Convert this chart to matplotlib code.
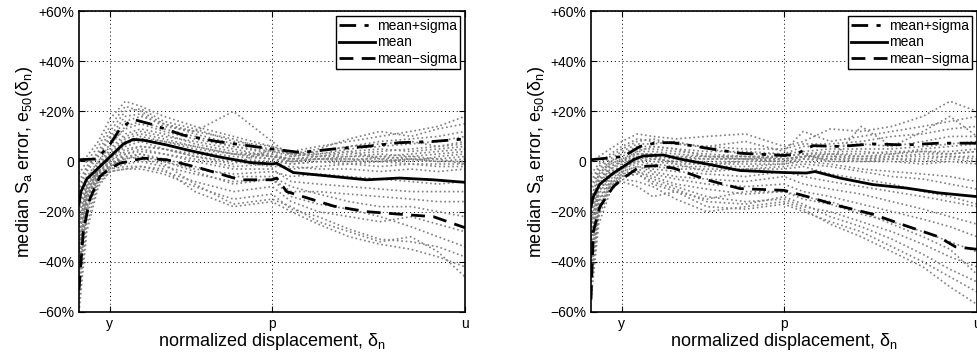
import matplotlib
matplotlib.use("Agg")
import matplotlib.pyplot as plt

plt.rcParams["font.family"] = ["Liberation Sans", "DejaVu Sans"]
plt.rcParams["mathtext.fontset"] = "custom"
plt.rcParams["mathtext.rm"] = "Liberation Sans"

# ---------------------------------------------------------------------------
# Data, error in percent
# ---------------------------------------------------------------------------
tick_pos = [0.08, 0.5, 1.0]
tick_labels = ["y", "p", "u"]
ytick_pos = [-60, -40, -20, 0, 20, 40, 60]
ytick_labels = ["\u221260%", "\u221240%", "\u221220%", "0", "+20%", "+40%", "+60%"]

x_grid = [0, 0.02, 0.05, 0.08, 0.12, 0.16, 0.22, 0.3, 0.4, 0.5,
          0.55, 0.62, 0.7, 0.78, 0.86, 0.93, 1.0]

gray_left = [
    [0, 2, 8, 17, 24, 22, 18, 14, 10, 6, 4, 6, 8, 10, 12, 14, 18],
    [-5, 0, 6, 14, 22, 20, 15, 12, 9, 4, 3, 5, 9, 12, 10, 13, 15],
    [-10, -3, 3, 10, 18, 19, 14, 12, 20, 8, 2, 4, 6, 8, 9, 10, 12],
    [-15, -6, 0, 6, 14, 16, 13, 10, 6, 3, 1, 2, 3, 4, 5, 6, 8],
    [-20, -8, -2, 4, 10, 12, 10, 8, 5, 2, 1, 1, 2, 2, 3, 4, 5],
    [-25, -10, -3, 2, 8, 9, 8, 6, 3, 1, 0, 1, 1, 1, 2, 1, 2],
    [-30, -12, -4, 0, 5, 6, 5, 3, 1, 0, -1, 0, 0, 0, 1, 0, 0],
    [-35, -15, -5, -2, 3, 4, 3, 1, -2, -1, -3, -2, -1, -2, -1, -2, -2],
    [-40, -18, -6, -2, 1, 2, 0, -3, -5, -4, -6, -5, -6, -7, -8, -9, -8],
    [-45, -20, -7, -3, -1, 0, -2, -5, -8, -7, -12, -12, -13, -14, -15, -16, -16],
    [-50, -22, -8, -3, -2, -2, -4, -8, -12, -10, -16, -20, -22, -24, -22, -25, -28],
    [-55, -25, -9, -4, -3, -3, -5, -10, -15, -13, -19, -22, -27, -31, -32, -34, -38],
    [-60, -28, -10, -4, -3, -2, -3, -12, -18, -16, -20, -25, -30, -33, -35, -38, -42],
    [-40, -16, -5, -1, 2, 1, -1, -9, -17, -15, -18, -24, -28, -32, -30, -36, -46],
    [-30, -12, -3, 1, 6, 8, 5, 2, -1, 5, 3, 2, 4, 1, 0, 2, 3],
    [-12, -4, 2, 9, 16, 18, 15, 11, 7, 5, 3, 3, 5, 6, 7, 8, 10],
    [-18, -7, 0, 7, 13, 15, 12, 9, 6, 4, 2, 3, 4, 5, 4, 5, 6],
    [-22, -9, -1, 5, 11, 13, 11, 7, 4, 2, 1, 2, 2, 3, 2, 3, 4],
    [-28, -11, -2, 3, 9, 11, 9, 6, 3, 3, 0, 1, 1, 0, 1, 0, 1],
    [-33, -13, -3, 1, 7, 9, 7, 4, 2, 1, -1, 0, -1, 0, -1, -1, -1],
    [-38, -15, -4, 0, 4, 6, 5, 2, 0, -2, -2, -3, -3, -4, -3, -4, -3],
    [-42, -17, -5, -1, 3, 5, 3, 0, -3, -3, -8, -9, -10, -11, -12, -12, -12],
    [-46, -19, -6, -2, 2, 3, 1, -2, -6, -6, -10, -13, -16, -18, -18, -20, -22],
    [-26, -10, -3, 2, 7, 10, 8, 5, 3, 2, 0, 1, 0, 2, 1, 1, -1],
    [-8, -2, 4, 12, 20, 21, 16, 13, 8, 6, 3, 4, 6, 7, 8, 6, 7],
    [-36, -14, -4, -1, 1, 3, 0, -4, -9, -7, -14, -17, -19, -22, -26, -30, -34],
]

gray_right = [
    [0, 2, 5, 8, 11, 10, 9, 10, 11, 6, 8, 13, 12, 14, 18, 24, 20],
    [-5, -1, 3, 6, 9, 8, 7, 6, 8, 4, 12, 8, 10, 12, 14, 16, 18],
    [-10, -3, 1, 4, 7, 7, 8, 5, 3, 3, 6, 6, 7, 6, 8, 10, 10],
    [-15, -5, 0, 2, 5, 5, 4, 3, 2, 2, 3, 4, 4, 3, 5, 6, 7],
    [-20, -7, -2, 0, 3, 3, 2, 1, 1, 1, 2, 2, 2, 2, 3, 3, 4],
    [-25, -9, -3, -1, 2, 1, 0, 0, 0, 0, 1, 1, 1, 1, 0, 1, 0],
    [-30, -12, -5, -3, 0, -1, -2, -2, -2, -1, 0, -1, -3, -4, -5, -6, -8],
    [-35, -15, -7, -4, -2, -3, -4, -5, -6, -4, -6, -8, -10, -12, -14, -16, -18],
    [-40, -18, -9, -5, -3, -5, -7, -9, -10, -9, -12, -14, -17, -20, -23, -26, -30],
    [-45, -20, -10, -6, -4, -7, -10, -14, -16, -15, -18, -20, -24, -28, -33, -38, -42],
    [-50, -22, -11, -6, -5, -9, -12, -18, -19, -17, -20, -24, -28, -34, -40, -46, -52],
    [-55, -25, -12, -7, -8, -10, -15, -20, -18, -16, -19, -25, -30, -36, -42, -50, -57],
    [-40, -16, -8, -8, -10, -14, -12, -15, -12, -12, -14, -16, -20, -25, -30, -35, -45],
    [-30, -12, -6, -3, 1, 2, -1, -4, -3, -3, -2, -5, -7, -9, -12, -14, -17],
    [-20, -8, -3, 0, 4, 6, 5, 2, 1, 2, 3, 0, 14, 6, 12, 18, 10],
    [-12, -4, 0, 3, 6, 6, 5, 4, 4, 3, 4, 5, 5, 5, 6, 7, 8],
    [-18, -6, -1, 1, 4, 4, 3, 2, 2, 2, 3, 3, 3, 4, 4, 4, 5],
    [-22, -8, -2, 0, 2, 2, 1, 1, 1, 0, 2, 2, 1, 2, 2, 2, 2],
    [-28, -11, -4, -2, 1, 0, -1, -1, -1, -1, 1, 0, 0, 0, -1, 0, -1],
    [-33, -13, -6, -3, -1, -2, -3, -3, -3, -2, -1, -2, -4, -6, -7, -9, -11],
    [-38, -16, -8, -4, -2, -4, -6, -7, -8, -6, -9, -11, -13, -16, -19, -22, -25],
    [-43, -19, -9, -5, -4, -6, -9, -11, -13, -12, -15, -17, -21, -24, -28, -32, -36],
    [-48, -21, -10, -6, -5, -8, -11, -16, -17, -14, -17, -22, -26, -31, -37, -43, -48],
    [-8, -2, 2, 5, 8, 9, 7, 6, 5, 5, 7, 7, 8, 10, 11, 13, 14],
    [-26, -10, -4, -2, 0, 1, 0, -1, 0, 1, 2, 1, 0, 1, 1, 2, 1],
    [-15, -5, -1, 1, 3, 3, 2, 2, 2, 1, 2, 3, 2, 3, 4, 3, 4],
]

left_mean_x = [0, 0.005, 0.02, 0.054, 0.081, 0.115, 0.14, 0.167, 0.227, 0.28,
               0.357, 0.443, 0.5, 0.512, 0.555, 0.66, 0.745, 0.83, 0.918, 1.0]
left_mean_y = [-17, -12, -7, -2, 2, 7, 8.8, 8.5, 6.6, 4.6,
               2, -0.4, -1, -0.7, -4.4, -6, -7.3, -6.6, -7.3, -8.3]
left_upper_x = [0, 0.046, 0.081, 0.106, 0.14, 0.184, 0.27, 0.357, 0.5,
                0.573, 0.66, 0.745, 0.83, 0.918, 1.0]
left_upper_y = [0.7, 1, 7, 13, 16.8, 15, 10.5, 8, 5, 3.6, 5, 6, 7.5, 8, 9]
left_lower_x = [0, 0.011, 0.028, 0.054, 0.081, 0.106, 0.167, 0.227, 0.313,
                0.417, 0.5, 0.512, 0.538, 0.66, 0.745, 0.83, 0.918, 1.0]
left_lower_y = [-51, -28, -15, -6, -2.6, -0.7, 1.3, 0.7, -2.6,
                -7.3, -7.3, -6.6, -12, -17.8, -20, -21, -22, -26.4]

right_mean_x = [0, 0.006, 0.023, 0.058, 0.084, 0.11, 0.135, 0.187, 0.23, 0.3,
                0.386, 0.5, 0.558, 0.58, 0.645, 0.73, 0.817, 0.9, 1.0]
right_mean_y = [-18, -14, -9, -4.6, -2, 0.7, 2.2, 2.6, 1, -1,
                -3.6, -4.4, -4.6, -4, -6.6, -9.2, -10.6, -12.5, -14]
right_upper_x = [0, 0.084, 0.127, 0.17, 0.213, 0.3, 0.386, 0.5, 0.532,
                 0.575, 0.645, 0.73, 0.817, 0.9, 1.0]
right_upper_y = [0.7, 2, 6, 7.5, 7.5, 5.3, 3.3, 2.4, 3, 6.3, 6, 7, 6.6, 7.3, 7.3]
right_lower_x = [0, 0.006, 0.023, 0.058, 0.084, 0.127, 0.17, 0.213, 0.3,
                 0.386, 0.5, 0.558, 0.645, 0.73, 0.817, 0.9, 0.944, 1.0]
right_lower_y = [-55, -28, -18, -10, -6.6, -2, -1.7, -2.6, -7.3,
                 -10.8, -11.5, -13.9, -17.8, -21, -25.7, -30, -34, -35]


def draw_panel(ax, gray, mean_x, mean_y, up_x, up_y, lo_x, lo_y):
    for run in gray:
        ax.plot(x_grid, run, color="#7f7f7f", ls=":", lw=1.2, zorder=2)
    ax.plot(up_x, up_y, color="black", ls="-.", lw=2, dashes=(6, 3, 1.5, 3),
            label="mean+sigma", zorder=3)
    ax.plot(mean_x, mean_y, color="black", ls="-", lw=2, label="mean", zorder=3)
    ax.plot(lo_x, lo_y, color="black", ls="--", lw=2, dashes=(5, 3),
            label="mean\u2212sigma", zorder=3)

    ax.set_xlim(0, 1)
    ax.set_ylim(-60, 60)
    ax.set_xticks(tick_pos)
    ax.set_xticklabels(tick_labels)
    ax.set_yticks(ytick_pos)
    ax.set_yticklabels(ytick_labels)
    ax.tick_params(direction="in", length=4, labelsize=10, top=True, right=True,
                   width=0.8)
    ax.grid(True, color="black", ls=(0, (1, 3)), lw=0.7)
    for sp in ax.spines.values():
        sp.set_linewidth(1.2)
    ax.set_xlabel(r"normalized displacement, δ$_\mathregular{n}$", fontsize=13,
                  labelpad=0)
    ax.set_ylabel(r"median S$_\mathregular{a}$ error, e$_\mathregular{50}$(δ$_\mathregular{n}$)",
                  fontsize=13, labelpad=2)
    leg = ax.legend(loc="upper right", fontsize=10, handlelength=2.6,
                    handletextpad=0.1, borderpad=0.25, labelspacing=0.15,
                    fancybox=False, framealpha=1, borderaxespad=0.35)
    leg.get_frame().set_edgecolor("black")
    leg.get_frame().set_linewidth(1.0)


fig = plt.figure(figsize=(9.78, 3.56), dpi=100)
ax1 = fig.add_axes([0.0808, 0.1236, 0.3947, 0.8455])
ax2 = fig.add_axes([0.6043, 0.1236, 0.3947, 0.8455])

draw_panel(ax1, gray_left, left_mean_x, left_mean_y,
           left_upper_x, left_upper_y, left_lower_x, left_lower_y)
draw_panel(ax2, gray_right, right_mean_x, right_mean_y,
           right_upper_x, right_upper_y, right_lower_x, right_lower_y)

fig.savefig("out.png", dpi=100)
